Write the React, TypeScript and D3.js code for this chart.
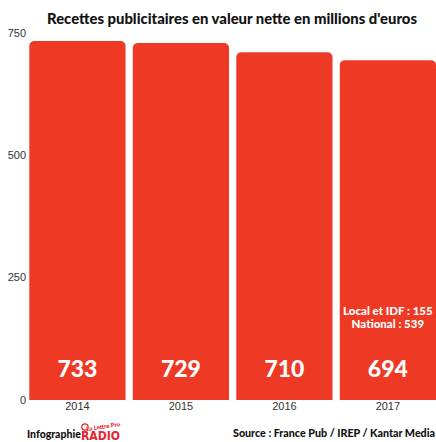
import React from "react";
import * as d3 from "d3";

const years = ["2014", "2015", "2016", "2017"];
const values = [733, 729, 710, 694];
const yTicks = [0, 250, 500, 750];
const title = "Recettes publicitaires en valeur nette en millions d'euros";
const annotationLines = ["Local et IDF : 155", "National : 539"];
const sourceText = "Source : France Pub / IREP / Kantar Media";

const W = 436;
const H = 442;
const BAR = "#ee3a25";

function topRoundedRect(x: number, y: number, w: number, h: number, r: number) {
  const p = d3.path();
  p.moveTo(x, y + h);
  p.lineTo(x, y + r);
  p.arcTo(x, y, x + r, y, r);
  p.lineTo(x + w - r, y);
  p.arcTo(x + w, y, x + w, y + r, r);
  p.lineTo(x + w, y + h);
  p.closePath();
  return p.toString();
}

export default function App() {
  const x = d3.scaleBand<string>().domain(years).range([29.3, 436]).paddingInner(0.07).paddingOuter(0);
  const y = d3.scaleLinear().domain([0, 750]).range([400, 32.7]);
  const font = "Lato, 'Open Sans', sans-serif";
  const axisFont = "'Liberation Sans', Arial, sans-serif";
  const last = years[years.length - 1];
  return (
    <svg width={W} height={H} style={{ position: "absolute", left: 0, top: 0, background: "#fff" }}>
      <text x={232} y={24} textAnchor="middle" fontFamily={font} fontWeight={900} fontSize={14.5}
        fill="#111" textLength={370} lengthAdjust="spacingAndGlyphs">{title}</text>
      {yTicks.map((t) => (
        <text key={t} x={26} y={y(t)} dy="0.35em" textAnchor="end" fontFamily={axisFont} fontSize={11} fill="#333">{t}</text>
      ))}
      {years.map((yr, i) => {
        const bx = x(yr)!;
        const bw = x.bandwidth();
        return (
          <g key={yr}>
            <path d={topRoundedRect(bx, y(values[i]), bw, y(0) - y(values[i]), 5)} fill={BAR} />
            <text x={bx + bw / 2} y={377} textAnchor="middle" fontFamily={font} fontWeight={900} fontSize={23} fill="#fff">{values[i]}</text>
            <text x={bx + bw / 2} y={410} textAnchor="middle" fontFamily={axisFont} fontSize={11} fill="#333">{yr}</text>
          </g>
        );
      })}
      {annotationLines.map((l, i) => (
        <text key={l} x={x(last)! + x.bandwidth() / 2} y={315 + i * 12.5} textAnchor="middle" fontFamily={font}
          fontWeight={900} fontSize={11.5} fill="#fff">{l}</text>
      ))}
      <text x={27} y={438} fontFamily={font} fontWeight={900} fontSize={10.5} fill="#111">Infographie</text>
      <g transform="translate(81,0)">
        <text x={0} y={440} fontFamily="'DejaVu Sans Condensed', 'Liberation Sans Narrow', sans-serif" fontWeight={700}
          fontSize={13} fill="#e8242f" textLength={39} lengthAdjust="spacingAndGlyphs">RADIO</text>
        <text x={5} y={429} fontFamily={font} fontWeight={900} fontSize={6} fill="#e8242f"
          transform="rotate(-8 20 427)">La Lettre Pro</text>
        <circle cx={4} cy={427} r={3.2} fill="none" stroke="#e8242f" strokeWidth={1.2} />
      </g>
      <text x={435} y={437} textAnchor="end" fontFamily={font} fontWeight={900} fontSize={10.5} fill="#111"
        textLength={202} lengthAdjust="spacingAndGlyphs">{sourceText}</text>
    </svg>
  );
}
